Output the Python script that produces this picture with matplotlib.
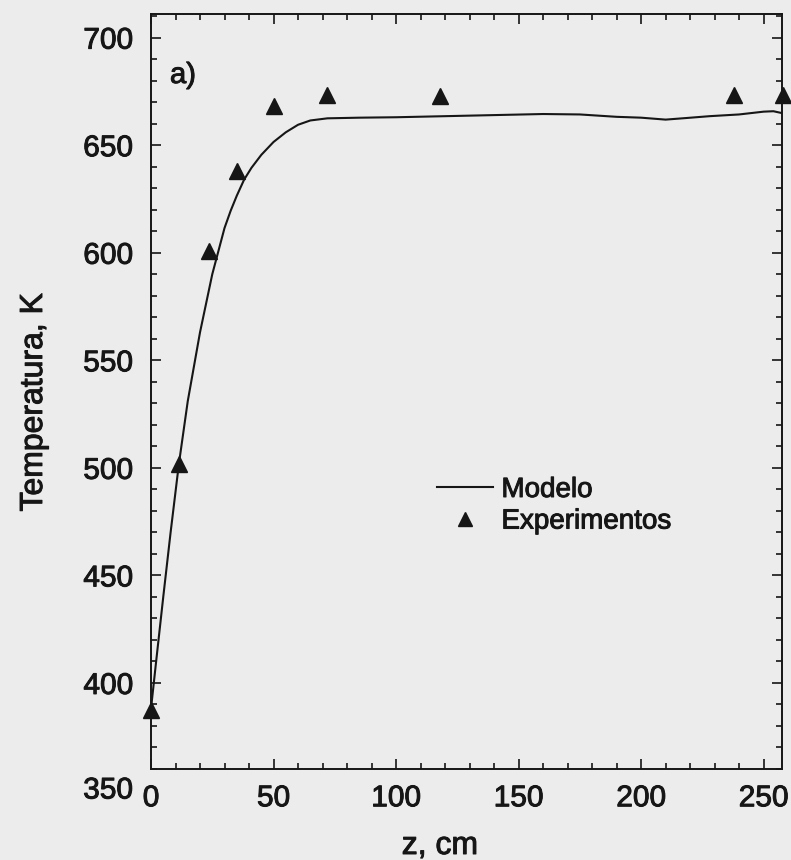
import matplotlib
matplotlib.use("Agg")
import matplotlib.pyplot as plt
import matplotlib.patheffects as pe
from matplotlib.ticker import MultipleLocator

# Model curve: axial temperature profile
z_model = [0, 2, 5, 8, 11.4, 15, 20, 25, 30, 32.5, 35, 38, 41, 45, 50, 55, 60, 65, 72,
           85, 100, 120, 140, 160, 175, 190, 200, 210, 218, 228, 240, 250, 254, 258]
T_model = [388, 409, 440, 470, 502, 531, 563, 590, 611.5, 619.5, 626.5, 634, 639.5,
           645.5, 651.5, 656, 659.5, 661.5, 662.5, 662.8, 663, 663.5, 664, 664.5,
           664.3, 663.2, 662.8, 661.9, 662.6, 663.5, 664.3, 665.6, 665.8, 664.8]

# Measured temperatures
z_exp = [0, 11.4, 23.8, 35, 50.2, 72, 118, 238, 258]
T_exp = [387.5, 502, 601, 638, 668, 673.5, 673, 673.5, 673.5]

x_ticks = [0, 50, 100, 150, 200, 250]
y_ticks = [400, 450, 500, 550, 600, 650, 700]

ink = "#161616"
paper = "#ececec"
bold_ink = [pe.withStroke(linewidth=0.7, foreground=ink)]

plt.rcParams["font.family"] = ["Liberation Sans", "DejaVu Sans"]

fig = plt.figure(figsize=(7.91, 8.60), dpi=100, facecolor=paper)
ax = fig.add_axes([151 / 791, 1 - 769 / 860, (782 - 151) / 791, (769 - 14) / 860])
ax.set_facecolor(paper)

ax.plot(z_model, T_model, color=ink, lw=1.5, label="Modelo")
ax.plot(z_exp, T_exp, linestyle="none", marker="^", ms=12, color=ink,
        label="Experimentos", clip_on=False, zorder=5)

ax.set_xlim(0, 257.5)
ax.set_ylim(360, 711)
ax.set_xticks(x_ticks)
ax.set_yticks(y_ticks)
ax.xaxis.set_minor_locator(MultipleLocator(10))
ax.yaxis.set_minor_locator(MultipleLocator(10))

for s in ax.spines.values():
    s.set_linewidth(1.4)
    s.set_color(ink)

ax.tick_params(which="both", direction="in", top=True, right=True, color=ink, width=1.2)
ax.tick_params(which="major", length=7.5)
ax.tick_params(which="minor", length=4)
ax.tick_params(axis="y", which="major", pad=13, labelsize=21.5, labelcolor=ink)
ax.tick_params(axis="x", which="major", pad=11, labelsize=21.5, labelcolor=ink)
for lab in ax.get_xticklabels() + ax.get_yticklabels():
    lab.set_path_effects(bold_ink)

# bottom-left label of the temperature axis
ax.annotate("350", xy=(0, 350), xycoords=("axes fraction", "data"),
            xytext=(-13, 0), textcoords="offset points", ha="right", va="center",
            fontsize=21.5, color=ink, annotation_clip=False, path_effects=bold_ink)

fig.text(34 / 791, 1 - 402 / 860, "Temperatura, K", rotation=90, ha="center",
         va="center", fontsize=23, color=ink, path_effects=bold_ink)
fig.text(440 / 791, 1 - 846 / 860, "z, cm", ha="center", va="center",
         fontsize=23, color=ink, path_effects=bold_ink)

fig.text(183 / 791, 1 - 75 / 860, "a)", ha="center", va="center",
         fontsize=21, color=ink, path_effects=bold_ink)

leg = ax.legend(loc="upper left", bbox_to_anchor=(437 / 791, 1 - 477 / 860),
                bbox_transform=fig.transFigure, frameon=False, fontsize=20,
                borderpad=0, borderaxespad=0, handlelength=2.0, handletextpad=0.32,
                labelspacing=0.2, numpoints=1, markerscale=0.85)
for t in leg.get_texts():
    t.set_color(ink)
    t.set_path_effects(bold_ink)

fig.savefig("out.png", dpi=100, facecolor=paper)
